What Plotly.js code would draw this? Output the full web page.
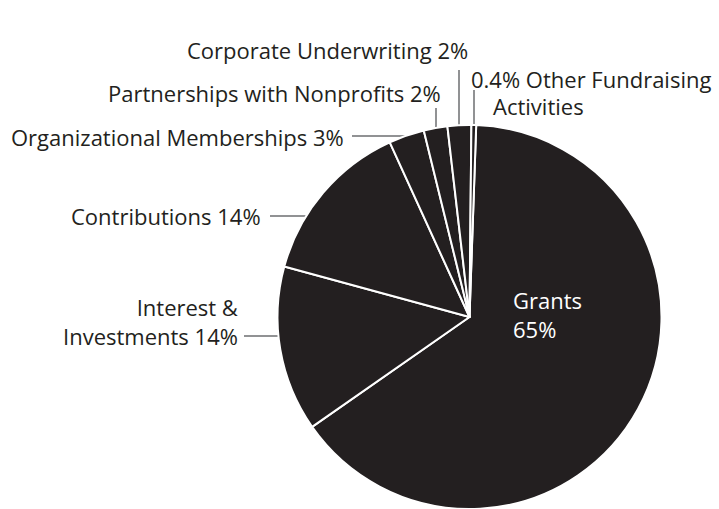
<!DOCTYPE html>
<html>
<head>
<meta charset="utf-8">
<script src="https://cdn.plot.ly/plotly-3.0.1.min.js"></script>
<style>html,body{margin:0;padding:0;background:#fff;}#chart{width:719px;height:509px;}</style>
</head>
<body>
<div id="chart"></div>
<script>
// Data
const labels = ["Grants", "Interest & Investments", "Contributions", "Organizational Memberships", "Partnerships with Nonprofits", "Corporate Underwriting", "Other Fundraising Activities"];
const values = [65, 14, 14, 3, 2, 2, 0.4];

const W = 719, H = 509;
const px = x => x / W;
const py = y => 1 - y / H;
const ink = "#231f20";
const lineCol = "#6d6e71";
const fontFam = "'Open Sans', sans-serif";
const fs = 22;

const pct = i => values[i] + "%";

const trace = {
  type: "pie",
  labels: labels,
  values: values,
  sort: false,
  direction: "clockwise",
  rotation: 2,
  textinfo: "none",
  hoverinfo: "label+value",
  marker: { colors: labels.map(() => ink), line: { color: "#ffffff", width: 2 } },
  domain: { x: [px(277), px(662)], y: [0, py(125)] },
  showlegend: false
};

function ann(text, x, y, xanchor, color, align) {
  return { text: text, x: px(x), y: py(y), xref: "paper", yref: "paper", xanchor: xanchor, yanchor: "middle",
    showarrow: false, align: align || xanchor, font: { family: fontFam, size: fs, color: color || ink } };
}

const annotations = [
  ann(labels[5] + " " + pct(5), 470, 50, "right"),
  ann(labels[4] + " " + pct(4), 443, 93, "right"),
  ann(labels[3] + " " + pct(3), 346, 137, "right"),
  ann(labels[2] + " " + pct(2), 263, 216, "right"),
  ann("Interest &amp;<br>Investments " + pct(1), 240, 321, "right"),
  ann(pct(6) + " Other Fundraising", 469, 79, "left"),
  ann("Activities", 491, 106, "left"),
  ann(labels[0] + "<br>" + pct(0), 511, 314, "left", "#ffffff", "left")
];

function seg(x0, y0, x1, y1) {
  return { type: "line", xref: "paper", yref: "paper", x0: px(x0), y0: py(y0), x1: px(x1), y1: py(y1),
    line: { color: lineCol, width: 1.5 }, layer: "below" };
}
const shapes = [
  seg(459, 70, 459, 130),
  seg(474, 90, 474, 130),
  seg(436, 108, 436, 132),
  seg(352, 136, 410, 136),
  seg(270, 216, 312, 216),
  seg(244, 336, 284, 336)
];

const layout = {
  width: W, height: H,
  margin: { l: 0, r: 0, t: 0, b: 0 },
  paper_bgcolor: "#ffffff",
  annotations: annotations,
  shapes: shapes,
  showlegend: false
};

Plotly.newPlot("chart", [trace], layout, { displayModeBar: false, staticPlot: true });
</script>
</body>
</html>
